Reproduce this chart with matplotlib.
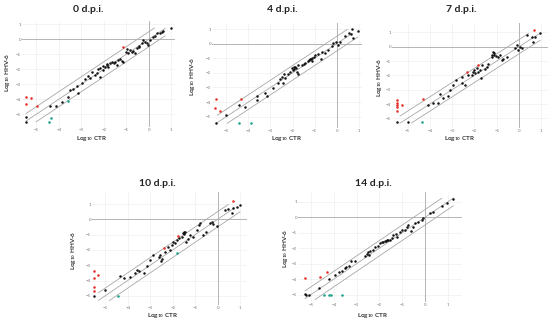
import matplotlib
matplotlib.use("Agg")
import matplotlib.pyplot as plt

plt.rcParams['font.family'] = ['Lato', 'DejaVu Sans']
plt.rcParams['mathtext.fontset'] = 'custom'
plt.rcParams['mathtext.bf'] = 'Lato:bold'
plt.rcParams['mathtext.rm'] = 'Lato:bold'
plt.rcParams['mathtext.default'] = 'bf'

titles = ["0 d.p.i.", "4 d.p.i.", "7 d.p.i.", "10 d.p.i.", "14 d.p.i."]
xlabel = r"Log$_{10}$ CTR"
ylabel = r"Log$_{10}$ HHV-6"
ticks = [-5, -4, -3, -2, -1, 0, 1]
band_offsets = [0.5, 0.0, -0.5]

# ---- 0 d.p.i. ----
d0_black_x = [-5.47, -5.47, -4.39, -4.12, -3.87, -3.57, -3.5, -3.38, -3.13, -3.17, -2.98, -2.83, -2.61,
              -2.53, -2.39, -2.31, -2.16, -2.16, -2.01, -1.87, -1.79, -1.72, -1.64, -1.5, -1.42, -1.35,
              -1.27, -1.2, -1.16, -1.01, -0.98, -0.9, -0.83, -0.76, -0.61, -0.53, -0.41, -0.31, -0.24,
              -0.16, -0.09, -0.01, 0.06, 0.21, 0.28, 0.36, 0.5, 0.61, 0.65, 0.98, -2.25, -1.95, -1.55,
              -1.85, -0.7, -0.45, -2.7, -2.05]
d0_black_y = [-5.2, -5.51, -4.44, -4.44, -4.18, -3.82, -3.38, -3.33, -3.6, -3.11, -2.93, -2.67, -2.6,
              -2.16, -2.38, -2.22, -2.53, -1.93, -1.76, -1.71, -1.82, -1.6, -1.53, -1.49, -1.71, -1.38,
              -1.33, -1.44, -1.49, -0.82, -0.67, -0.89, -0.71, -0.87, -0.93, -0.6, -0.44, -0.22, -0.04,
              -0.16, -0.22, -0.38, -0.04, 0.18, 0.22, 0.4, 0.44, 0.51, 0.56, 0.73, -2.0, -1.85, -1.6,
              -1.65, -0.75, -0.5, -2.45, -2.05]
d0_red_x = [-5.45, -5.24, -5.47, -4.98, -1.13]
d0_red_y = [-3.82, -3.91, -4.31, -4.47, -0.51]
d0_teal_x = [-4.36, -4.41, -3.59]
d0_teal_y = [-5.27, -5.53, -4.09]

# ---- 4 d.p.i. ----
d4_black_x = [-5.48, -5.0, -4.4, -4.13, -3.6, -3.62, -3.23, -3.15, -2.9, -2.66, -2.55, -2.48, -2.39, -2.45,
              -2.33, -2.1, -2.03, -1.98, -1.91, -1.85, -1.79, -1.76, -1.73, -1.58, -1.43, -1.28, -1.2,
              -1.16, -1.1, -1.04, -0.98, -0.83, -0.72, -0.65, -0.53, -0.41, -0.23, -0.15, -0.05, 0.05,
              0.15, 0.38, 0.56, 0.65, 0.68, 0.75, 0.95, -1.95, -1.88, -1.25, -1.12, -2.2, -1.5]
d4_black_y = [-5.41, -4.89, -4.2, -4.36, -3.56, -3.86, -3.4, -3.56, -3.06, -2.67, -2.44, -2.26, -2.08, -2.67,
              -2.37, -1.92, -1.69, -1.8, -1.58, -1.69, -1.92, -2.08, -1.46, -1.46, -1.35, -1.19, -1.07,
              -1.03, -1.16, -0.94, -0.78, -0.71, -1.07, -0.55, -0.66, -0.43, -0.16, 0.02, 0.14, -0.09,
              0.14, 0.53, 0.71, 0.66, 1.0, 0.39, 0.87, -1.75, -1.6, -1.1, -1.0, -2.1, -1.4]
d4_red_x = [-5.48, -5.51, -5.29, -4.35]
d4_red_y = [-3.79, -4.38, -4.59, -3.81]
d4_teal_x = [-4.43, -3.87]
d4_teal_y = [-5.41, -5.41]

# ---- 7 d.p.i. ----
d7_black_x = [-5.45, -4.97, -4.1, -3.85, -3.62, -3.55, -3.4, -3.2, -3.1, -2.95, -2.84, -2.57, -2.54, -2.43,
              -2.28, -2.13, -2.05, -1.98, -1.9, -1.83, -1.75, -1.71, -1.68, -1.53, -1.45, -1.38, -1.23,
              -1.15, -1.11, -1.05, -0.96, -0.85, -0.78, -0.7, -0.55, -0.18, -0.1, -0.06, 0.04, 0.15,
              0.34, 0.57, 0.64, 0.72, 0.94, -2.0, -1.2, -1.1]
d7_black_y = [-5.28, -5.28, -4.07, -3.91, -3.95, -3.3, -3.6, -3.42, -3.02, -2.67, -2.33, -2.51, -2.09, -2.67,
              -1.98, -1.98, -1.74, -1.86, -1.51, -1.74, -1.63, -2.21, -1.28, -1.58, -1.4, -1.21, -0.7,
              -0.35, -0.47, -0.65, -0.7, -0.58, -0.93, -0.88, -0.74, -0.12, 0.12, -0.23, -0.05, -0.12,
              0.81, 0.65, 0.35, 0.7, 0.93, -1.65, -0.6, -0.55]
d7_red_x = [-5.45, -5.45, -5.45, -5.45, -5.45, -5.24, -4.3, -2.35, -1.83, 0.69]
d7_red_y = [-3.72, -3.91, -4.07, -4.23, -4.47, -4.07, -3.65, -1.74, -1.28, 1.16]
d7_teal_x = [-4.37]
d7_teal_y = [-5.28]

# ---- 10 d.p.i. ----
d10_black_x = [-5.52, -5.0, -4.36, -4.16, -3.89, -3.67, -3.59, -3.48, -3.27, -3.15, -3.0, -2.86, -2.63,
               -2.56, -2.49, -2.34, -2.19, -2.12, -2.04, -1.97, -1.89, -1.82, -1.7, -1.6, -1.52, -1.49,
               -1.41, -1.3, -1.23, -1.08, -0.93, -0.81, -0.78, -0.64, -0.52, -0.34, -0.27, -0.19, -0.04,
               0.33, 0.47, 0.62, 0.7, 0.84, 0.99, -1.55, -1.45, -2.5]
d10_black_y = [-5.04, -4.65, -3.7, -3.85, -3.74, -3.48, -3.3, -3.41, -3.52, -3.04, -2.65, -2.33, -2.48,
               -2.33, -2.61, -2.11, -1.83, -2.0, -1.67, -1.46, -1.52, -1.35, -1.24, -1.13, -0.8, -0.96,
               -1.46, -1.3, -1.02, -1.13, -0.7, -0.37, -0.22, -1.02, -0.8, -0.26, -0.15, -0.3, -0.43,
               0.61, 0.65, 0.43, 0.72, 0.83, 0.91, -0.9, -0.85, -2.75]
d10_red_x = [-5.52, -5.52, -5.3, -5.49, -5.52, -2.37, -1.75, 0.67]
d10_red_y = [-3.41, -3.85, -3.63, -4.43, -4.67, -1.85, -1.09, 1.2]
d10_teal_x = [-4.44, -1.79]
d10_teal_y = [-5.0, -2.17]

# ---- 14 d.p.i. ----
d14_black_x = [-5.26, -5.2, -5.07, -4.64, -4.2, -3.95, -3.76, -3.65, -3.51, -3.45, -3.32, -3.26, -3.07,
               -2.63, -2.53, -2.49, -2.41, -2.3, -2.19, -2.05, -1.97, -1.9, -1.83, -1.71, -1.61, -1.54,
               -1.46, -1.39, -1.27, -1.21, -1.1, -1.02, -0.88, -0.8, -0.73, -0.63, -0.51, -0.44, -0.29,
               -0.15, -0.07, 0.22, 0.37, 0.73, 0.95, 1.24, -1.75, -1.65, -2.45]
d14_black_y = [-4.96, -5.0, -5.0, -4.57, -3.99, -3.71, -3.56, -3.5, -3.28, -3.2, -3.13, -2.85, -2.81,
               -2.53, -2.38, -2.27, -2.15, -2.1, -1.93, -1.85, -1.67, -1.57, -1.57, -1.52, -1.5, -1.46,
               -1.35, -1.14, -1.07, -1.29, -0.92, -0.82, -0.82, -0.6, -0.49, -0.86, -0.6, -0.39, -0.28,
               -0.17, -0.06, 0.3, 0.36, 0.73, 0.94, 1.18, -1.55, -1.45, -2.45]
d14_red_x = [-5.26, -4.61, -4.28]
d14_red_y = [-3.93, -3.88, -3.56]
d14_teal_x = [-4.43, -4.2, -4.14, -3.65]
d14_teal_y = [-5.0, -5.0, -5.0, -5.0]

datasets = [
    (d0_black_x, d0_black_y, d0_red_x, d0_red_y, d0_teal_x, d0_teal_y),
    (d4_black_x, d4_black_y, d4_red_x, d4_red_y, d4_teal_x, d4_teal_y),
    (d7_black_x, d7_black_y, d7_red_x, d7_red_y, d7_teal_x, d7_teal_y),
    (d10_black_x, d10_black_y, d10_red_x, d10_red_y, d10_teal_x, d10_teal_y),
    (d14_black_x, d14_black_y, d14_red_x, d14_red_y, d14_teal_x, d14_teal_y),
]

# band line x-extents per panel (upper, middle, lower)
band_x = [
    [(-5.45, 0.25), (-5.45, 0.73), (-5.0, 0.73)],
    [(-5.4, 0.48), (-5.45, 0.7), (-4.95, 0.95)],
    [(-5.34, 0.42), (-5.34, 0.9), (-4.82, 0.94)],
    [(-5.3, 0.47), (-5.3, 0.75), (-4.81, 0.99)],
    [(-5.26, 0.73), (-5.26, 1.24), (-4.82, 1.24)],
]

W, H = 550, 324
# pixel layout: (left, right, top, bottom, x0_px, x_scale, y0_px, y_scale)
layout = [
    (22, 175, 21, 127, 148.7, 22.5, 39.3, 15.0),
    (212, 362, 23, 128, 336.7, 22.1, 43.7, 14.6),
    (392, 548, 23, 128, 519.0, 22.3, 46.7, 14.33),
    (92, 247, 192, 305, 217.7, 22.5, 219.3, 15.3),
    (298, 462, 192, 302, 425.0, 22.8, 217.3, 15.45),
]
title_pos = [(88, 10), (282, 9.5), (461, 9.5), (157, 184), (373, 184)]
xlabel_pos = [(92, 138.5), (287, 138.5), (460, 138.5), (163, 315.5), (373, 315.5)]
ylabel_pos = [(7, 72), (192, 76), (380, 77), (73, 250), (285, 248)]

fig = plt.figure(figsize=(W / 100, H / 100), dpi=100)

for i, (bx, by, rx, ry, tx, ty) in enumerate(datasets):
    l, r, t, b, x0, sx, y0, sy = layout[i]
    ax = fig.add_axes([l / W, 1 - b / H, (r - l) / W, (b - t) / H])
    ax.set_xlim((l - x0) / sx, (r - x0) / sx)
    ax.set_ylim(-(b - y0) / sy, (y0 - t) / sy)
    for s in ax.spines.values():
        s.set_visible(False)
    ax.set_xticks(ticks)
    ax.set_yticks(ticks)
    ax.grid(True, color='#ededed', linewidth=0.4)
    ax.set_axisbelow(True)
    ax.tick_params(length=0, labelsize=3.2, colors='#777777', pad=0.8)
    ax.axhline(0, color='#b5b5b5', linewidth=0.7, zorder=1)
    ax.axvline(0, color='#b5b5b5', linewidth=0.7, zorder=1)
    for off, (xa, xb) in zip(band_offsets, band_x[i]):
        ax.plot([xa, xb], [xa + off, xb + off], color='#a8a8a8', linewidth=0.6, zorder=2)
    ax.scatter(bx, by, s=3.2, color='#111111', zorder=3, linewidths=0)
    ax.scatter(rx, ry, s=3.4, color='#e8302a', zorder=4, linewidths=0)
    ax.scatter(tx, ty, s=3.4, color='#1aa38a', zorder=4, linewidths=0)

    fig.text(title_pos[i][0] / W, 1 - title_pos[i][1] / H, titles[i], ha='center', va='center',
             fontsize=7.5, fontweight='bold', color='#222222')
    fig.text(xlabel_pos[i][0] / W, 1 - xlabel_pos[i][1] / H, xlabel, ha='center', va='center',
             fontsize=4.6, fontweight='bold', color='#333333')
    fig.text(ylabel_pos[i][0] / W, 1 - ylabel_pos[i][1] / H, ylabel, ha='center', va='center',
             fontsize=4.6, fontweight='bold', color='#333333', rotation=90)

fig.savefig('out.png', dpi=100)
